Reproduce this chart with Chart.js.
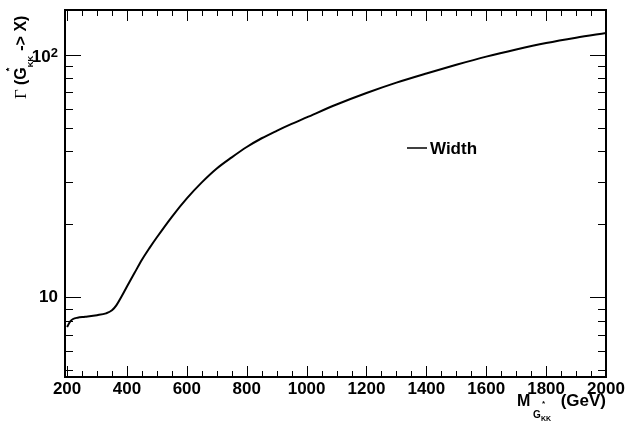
<!DOCTYPE html>
<html><head><meta charset="utf-8">
<script src="https://cdn.jsdelivr.net/npm/chart.js@4/dist/chart.umd.min.js"></script>
<style>html,body{margin:0;padding:0;background:#fff;}#wrap{width:626px;height:421px;}</style>
</head><body><div id="wrap"><canvas id="c" width="626" height="421"></canvas></div>
<script>
// ---- data ----
const masses = [200,210,220,235,260,300,330,350,365,380,400,425,450,475,500,550,600,650,700,750,800,850,900,950,1000,1100,1200,1300,1400,1500,1600,1700,1800,1900,2000];
const widths = [7.55,7.95,8.15,8.25,8.32,8.45,8.6,8.85,9.3,10.0,11.1,12.6,14.3,15.97,17.7,21.5,25.6,29.8,34.0,37.8,41.7,45.3,48.6,51.9,55.2,62.4,69.6,76.8,83.8,91.0,98.3,105.2,111.8,117.6,122.9];
const xTickLabels = [200,400,600,800,1000,1200,1400,1600,1800,2000];
const xMinorTicks = [200,250,300,350,400,450,500,550,600,650,700,750,800,850,900,950,1000,1050,1100,1150,1200,1250,1300,1350,1400,1450,1500,1550,1600,1650,1700,1750,1800,1850,1900,1950,2000];
const yMajorTicks = [10,100];
const yMinorTicks = [5,6,7,8,9,20,30,40,50,60,70,80,90];
const seriesName = 'Width';

const FONT = "'Liberation Sans', Arial, Helvetica, sans-serif";

const decor = {
  id: 'decor',
  afterDraw(chart) {
    const ctx = chart.ctx, ca = chart.chartArea;
    const xs = chart.scales.x, ys = chart.scales.y;
    ctx.save();
    // ticks inside the frame
    ctx.strokeStyle = '#000'; ctx.lineWidth = 1;
    ctx.beginPath();
    xMinorTicks.forEach(v => {
      const px = Math.round(xs.getPixelForValue(v)) + 0.5;
      const len = xTickLabels.includes(v) ? 11 : 6;
      ctx.moveTo(px, ca.bottom); ctx.lineTo(px, ca.bottom - len);
      ctx.moveTo(px, ca.top); ctx.lineTo(px, ca.top + len);
    });
    yMajorTicks.concat(yMinorTicks).forEach(v => {
      const py = Math.round(ys.getPixelForValue(v)) + 0.5;
      const len = yMajorTicks.includes(v) ? 16 : 8;
      ctx.moveTo(ca.left, py); ctx.lineTo(ca.left + len, py);
      ctx.moveTo(ca.right, py); ctx.lineTo(ca.right - len, py);
    });
    ctx.stroke();
    // frame
    ctx.lineWidth = 2;
    ctx.strokeRect(ca.left, ca.top, ca.right - ca.left, ca.bottom - ca.top);

    ctx.fillStyle = '#000';
    ctx.textBaseline = 'alphabetic';
    // y label 10^2
    const p100 = ys.getPixelForValue(100);
    ctx.font = 'bold 13px ' + FONT;
    const w2 = ctx.measureText('2').width;
    ctx.textAlign = 'right';
    ctx.fillText('2', 58, p100 + 2);
    ctx.font = 'bold 17px ' + FONT;
    ctx.fillText('10', 58 - w2, p100 + 7);
    ctx.textAlign = 'left';

    // y title (rotated)
    ctx.save();
    ctx.translate(25.5, 100);
    ctx.rotate(-Math.PI / 2);
    ctx.font = '17px "Liberation Serif", "DejaVu Serif", serif';
    ctx.fillText('\u0393', 1, 0);
    let pos = 15;
    ctx.font = 'bold 16px ' + FONT;
    ctx.fillText('(G', pos, 0);
    pos += ctx.measureText('(G').width;
    ctx.font = 'bold 9px ' + FONT;
    ctx.textBaseline = 'middle';
    ctx.fillText('*', pos - 4, -16);
    ctx.textBaseline = 'alphabetic';
    ctx.font = 'bold 8px ' + FONT;
    ctx.fillText('KK', pos, 7.5);
    pos += ctx.measureText('KK').width + 0.5;
    ctx.font = 'bold 16px ' + FONT;
    ctx.fillText(' -> X)', pos, 0);
    ctx.restore();

    // x title
    ctx.font = 'bold 16px ' + FONT;
    ctx.fillText('M', 517, 406);
    ctx.font = 'bold 10px ' + FONT;
    ctx.fillText('G', 533, 418);
    ctx.font = 'bold 8px ' + FONT;
    ctx.textBaseline = 'middle';
    ctx.fillText('*', 542, 404);
    ctx.textBaseline = 'alphabetic';
    ctx.font = 'bold 7px ' + FONT;
    ctx.fillText('KK', 541, 421);
    ctx.font = 'bold 17px ' + FONT;
    ctx.textAlign = 'right';
    ctx.fillText('(GeV)', 606, 406);
    ctx.textAlign = 'left';

    // legend
    const ds = chart.data.datasets[0];
    ctx.strokeStyle = ds.borderColor; ctx.lineWidth = 1.5;
    ctx.beginPath(); ctx.moveTo(407, 148); ctx.lineTo(427, 148); ctx.stroke();
    ctx.font = 'bold 17px ' + FONT;
    ctx.fillText(ds.label, 430, 153.5);
    ctx.restore();
  }
};

new Chart(document.getElementById('c'), {
  type: 'line',
  data: {
    datasets: [{
      label: seriesName,
      data: masses.map((m, i) => ({x: m, y: widths[i]})),
      borderColor: '#000',
      borderWidth: 2,
      pointRadius: 0,
      fill: false,
      cubicInterpolationMode: 'monotone'
    }]
  },
  options: {
    responsive: false,
    animation: false,
    devicePixelRatio: 1,
    layout: {padding: {top: 10, right: 20, left: 0, bottom: 0}},
    plugins: {legend: {display: false}, tooltip: {enabled: false}},
    scales: {
      x: {
        type: 'linear', min: 193, max: 2000,
        afterBuildTicks: s => { s.ticks = xTickLabels.map(v => ({value: v})); },
        afterFit: s => { s.height = 44; s.paddingLeft = 0; s.paddingRight = 0; },
        grid: {display: false, drawTicks: false},
        border: {display: false},
        ticks: {font: {family: FONT, weight: 'bold', size: 17}, color: '#000', padding: 2,
                maxRotation: 0, autoSkip: false, callback: v => String(v)}
      },
      y: {
        type: 'logarithmic', min: 4.7, max: 153,
        afterBuildTicks: s => { s.ticks = yMajorTicks.map(v => ({value: v})); },
        afterFit: s => { s.width = 65; s.paddingTop = 0; s.paddingBottom = 0; },
        grid: {display: false, drawTicks: false},
        border: {display: false},
        ticks: {font: {family: FONT, weight: 'bold', size: 17}, color: '#000', padding: 7,
                autoSkip: false, callback: v => (v === 10 ? '10' : '')}
      }
    }
  },
  plugins: [decor]
});
</script></body></html>
